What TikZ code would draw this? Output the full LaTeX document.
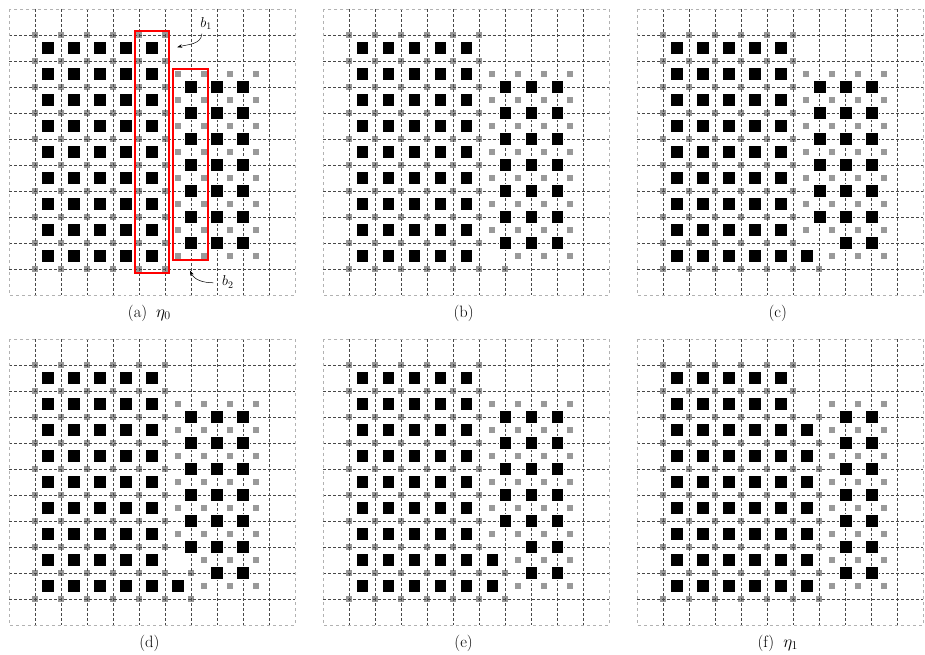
\documentclass[tikz,border=0pt]{standalone}
\usetikzlibrary{arrows.meta}
\tikzset{
 gridl/.style={densely dashed, draw=black!72, line width=0.35pt},
 bord/.style={dashed, draw=black!30, line width=0.45pt},
 blk/.style={fill=black, draw=white, line width=0.4pt},
 gry/.style={fill=black!40},
 redbox/.style={draw=red, line width=1.2pt, solid},
 lbl/.style={font=\fontsize{14}{16}\selectfont, inner sep=1pt},
 captxt/.style={font=\fontsize{16.5}{19}\selectfont},
 arr/.style={-{Stealth[length=5pt,width=3.5pt]}, line width=0.5pt}
}
\newcommand\Bk[2]{\filldraw[blk] (#1,#2) +(-0.245,-0.245) rectangle +(0.245,0.245);}
\newcommand\Gy[2]{\fill[gry] (#1,#2) +(-0.115,-0.115) rectangle +(0.115,0.115);}
\newcommand\panelgrid{%
 \foreach \i in {1,...,10}{\draw[gridl] (\i,0) -- (\i,11); \draw[gridl] (0,\i) -- (11,\i);}
 \draw[bord] (0,0) rectangle (11,11);
}
% #1 last row of black at column 7; #2 last row index of gray at column 6.5;
% #3 extra black; #4 extra gray; #5 caption
\newcommand\panelAE[5]{%
  \foreach \i in {1,...,6}{\foreach \j in {1,...,10}{\Gy{\i}{\j}}}
  \foreach \c in {7,8,9}{\foreach \r in {2,...,9}{\Gy{\c+0.5}{\r+0.5}}}
  \foreach \r in {2,...,#2}{\Gy{6.5}{\r+0.5}}
  \foreach \p/\q in {#4}{\Gy{\p}{\q}}
  \panelgrid
  \foreach \c in {1,...,5}{\foreach \r in {1,...,9}{\Bk{\c+0.5}{\r+0.5}}}
  \foreach \i in {8,9}{\foreach \j in {3,...,9}{\Bk{\i}{\j}}}
  \foreach \j in {3,...,#1}{\Bk{7}{\j}}
  \foreach \p/\q in {#3}{\Bk{\p}{\q}}
  \node[captxt] (captext) at (5.4,11.7) {#5};
}
\begin{document}
\begin{tikzpicture}[x=1bp,y=1bp]
\useasboundingbox (0,0) rectangle (925,-655);
% (a)
\begin{scope}[shift={(9bp,-9bp)}, x=26bp, y=-26bp]
  \panelAE{9}{9}{1.5/1.5}{6/10}{(a)\hspace{0.55em}$\eta_0$}
  \draw[redbox] (4.846,0.846) -- (6.154,0.846) -- (6.154,10.154) -- (4.846,10.154) -- cycle;
  \draw[redbox] (6.308,2.308) -- (7.654,2.308) -- (7.654,9.654) -- (6.308,9.654) -- cycle;
  \node[lbl] (b1) at (7.58,0.55) {$b_1$};
  \node[lbl] (b2) at (8.42,10.5) {$b_2$};
  \coordinate (b1s) at (7.42,0.95);
  \coordinate (b1t) at (6.47,1.47);
  \coordinate (b2s) at (7.86,10.53);
  \coordinate (b2t) at (6.96,10.06);
  \draw[arr] (b1s) to[out=-95,in=15] (b1t);
  \draw[arr] (b2s) to[out=180,in=-65] (b2t);
\end{scope}
% (b)
\begin{scope}[shift={(323.2bp,-9bp)}, x=26bp, y=-26bp]
  \panelAE{9}{8}{1.5/1.5}{7/10}{(b)}
\end{scope}
% (c)
\begin{scope}[shift={(637.4bp,-9bp)}, x=26bp, y=-26bp]
  \panelAE{8}{8}{6.5/9.5}{7/10}{(c)}
\end{scope}
% (d)
\begin{scope}[shift={(9bp,-339bp)}, x=26bp, y=-26bp]
  \panelAE{8}{7}{6.5/9.5}{7/10,7/9}{(d)}
\end{scope}
% (e)
\begin{scope}[shift={(323.2bp,-339bp)}, x=26bp, y=-26bp]
  \panelAE{7}{7}{6.5/9.5,6.5/8.5}{7/10,7/9}{(e)}
\end{scope}
% (f)
\begin{scope}[shift={(637.4bp,-339bp)}, x=26bp, y=-26bp]
  \foreach \i in {1,...,6}{\foreach \j in {1,...,10}{\Gy{\i}{\j}}}
  \foreach \j in {3,...,10}{\Gy{7}{\j}}
  \foreach \c in {7,8,9}{\foreach \r in {2,...,9}{\Gy{\c+0.5}{\r+0.5}}}
  \panelgrid
  \foreach \c in {1,...,5}{\foreach \r in {1,2}{\Bk{\c+0.5}{\r+0.5}}}
  \foreach \c in {1,...,6}{\foreach \r in {3,...,9}{\Bk{\c+0.5}{\r+0.5}}}
  \foreach \i in {8,9}{\foreach \j in {3,...,9}{\Bk{\i}{\j}}}
  \node[captxt] (capf) at (5.4,11.7) {(f)\hspace{0.55em}$\eta_1$};
\end{scope}
\end{tikzpicture}
\end{document}
